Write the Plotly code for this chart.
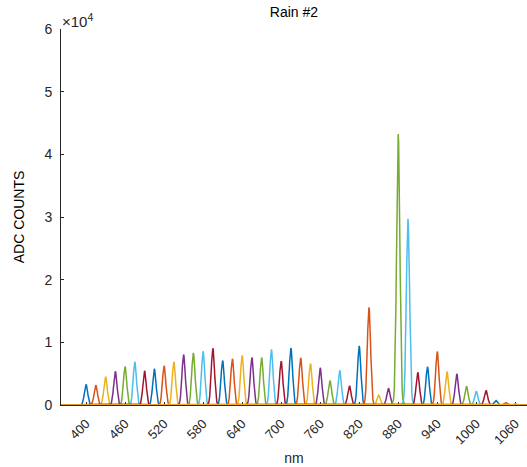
import plotly.graph_objects as go

# Channel centre wavelengths (nm) and peak heights (ADC counts)
centers = [400, 415, 430, 445, 460, 475, 490, 505, 520, 535, 550, 565, 580, 595,
           610, 625, 640, 655, 670, 685, 700, 715, 730, 745, 760, 775, 790, 805,
           820, 835, 850, 865, 880, 895, 910, 925, 940, 955, 970, 985, 1000, 1015,
           1030, 1045, 1060]
heights = [3270, 3160, 4550, 5390, 6140, 6890, 5450, 5770, 6250, 6890, 8050, 8320, 8580, 9060,
           7100, 7370, 7890, 7580, 7580, 8850, 7000, 9100, 7530, 6620, 5930, 3910, 5550, 3060,
           9440, 15600, 1560, 2680, 43250, 29700, 5230, 6090, 8530, 5340, 4980, 3000, 2200, 2310,
           720, 350, 200]

# Relative peak profile (offset in nm -> fraction of peak)
profile_offsets = [-12, -9.6, -7.2, -6, -4.8, -4.2, -3.6, -3, -2.4, -1.8, -1.2, -0.6, 0,
                   0.6, 1.2, 1.8, 2.4, 3, 3.6, 4.2, 4.8, 6, 7.2, 9.6, 12]
profile_values = [0, 0.003, 0.02, 0.06, 0.165, 0.25, 0.36, 0.49, 0.635, 0.775, 0.89, 0.97, 1.0,
                  0.97, 0.89, 0.775, 0.635, 0.49, 0.36, 0.25, 0.165, 0.06, 0.02, 0.003, 0]

# Spectrum baseline span (nm)
span = [350, 1100]

xticks = [400, 460, 520, 580, 640, 700, 760, 820, 880, 940, 1000, 1060]
yticks = [0, 10000, 20000, 30000, 40000, 50000, 60000]
yticklabels = ["0", "1", "2", "3", "4", "5", "6"]

colors = ["#0072BD", "#D95319", "#EDB120", "#7E2F8E", "#77AC30", "#4DBEEE", "#A2142F"]

fig = go.Figure()
for k, (c, h) in enumerate(zip(centers, heights)):
    xs = [span[0]] + [c + o for o in profile_offsets] + [span[1]]
    ys = [0] + [h * v for v in profile_values] + [0]
    fig.add_trace(go.Scatter(x=xs, y=ys, mode="lines",
                             line=dict(color=colors[k % 7], width=1.5),
                             showlegend=False, hoverinfo="skip"))

font = "Liberation Sans, Arial, Helvetica, sans-serif"
axcol = "#262626"

fig.update_layout(
    width=527, height=467,
    margin=dict(l=61, r=0, t=29, b=62),
    paper_bgcolor="white", plot_bgcolor="white",
    font=dict(family=font, size=13, color=axcol),
    title=dict(text="Rain #2", x=0.5, xref="paper", xanchor="center",
               y=1 - 12 / 467, yanchor="middle", font=dict(size=14, color="#000000")),
    xaxis=dict(range=[361.5, 1078], tickvals=xticks, ticktext=[str(t) for t in xticks],
               tickangle=-45, ticks="inside", ticklen=3, tickcolor=axcol,
               ticklabelstandoff=5,
               showline=True, linecolor=axcol, linewidth=1, showgrid=False, zeroline=False,
               layer="below traces",
               title=dict(text="nm", font=dict(size=14, color=axcol), standoff=6),
               tickfont=dict(size=13, color=axcol)),
    yaxis=dict(range=[0, 60000], tickvals=yticks, ticktext=yticklabels,
               ticks="inside", ticklen=3, tickcolor=axcol,
               ticklabelstandoff=5,
               showline=True, linecolor=axcol, linewidth=1, showgrid=False, zeroline=False,
               title=dict(text="ADC COUNTS", font=dict(size=14, color="#000000"), standoff=16),
               tickfont=dict(size=14, color=axcol)),
    annotations=[dict(text="×10<sup>4</sup>", xref="paper", yref="paper", x=0, y=1,
                      xanchor="left", yanchor="bottom", showarrow=False,
                      font=dict(size=15, color=axcol), xshift=-1, yshift=-3)],
)

fig.write_html("out.html")
